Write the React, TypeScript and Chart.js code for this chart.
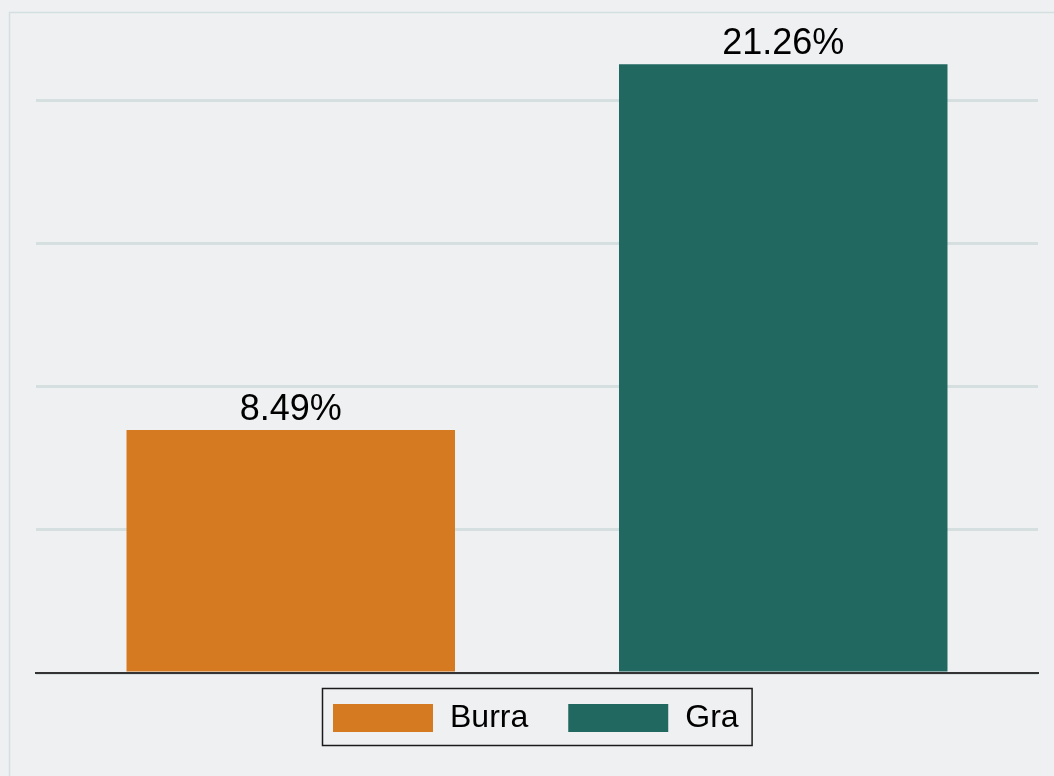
import React, { useEffect, useRef } from "react";
import { Chart, registerables } from "chart.js";

Chart.register(...registerables);

const categories = [""];
const seriesNames = ["Burra", "Gra"];
const seriesValues = [[8.49], [21.26]];
const seriesColors = ["#d67a22", "#216860"];
const gridTicks = [0, 5, 10, 15, 20];

const FONT = '"Liberation Sans", Arial, Helvetica, sans-serif';

const backgroundPlugin = {
  id: "bgFrame",
  beforeDraw(chart: any) {
    const ctx = chart.ctx;
    ctx.save();
    ctx.fillStyle = "#eff0f2";
    ctx.fillRect(0, 0, chart.width, chart.height);
    ctx.strokeStyle = "#d3dfe0";
    ctx.lineWidth = 1.5;
    ctx.strokeRect(9.5, 12.5, chart.width + 50, chart.height + 50);
    ctx.restore();
  },
};

const labelsPlugin = {
  id: "valueLabels",
  afterDatasetsDraw(chart: any) {
    const ctx = chart.ctx;
    ctx.save();
    ctx.font = `36px ${FONT}`;
    ctx.fillStyle = "#000";
    ctx.textAlign = "center";
    ctx.textBaseline = "alphabetic";
    chart.data.datasets.forEach((ds: any, i: number) => {
      const meta = chart.getDatasetMeta(i);
      meta.data.forEach((el: any, j: number) => {
        const v = ds.data[j];
        ctx.fillText(v.toFixed(2) + "%", el.x, el.y - 10);
      });
    });
    ctx.restore();
  },
};

const legendPlugin = {
  id: "boxLegend",
  afterDraw(chart: any) {
    const ctx = chart.ctx;
    const area = chart.chartArea;
    ctx.save();
    ctx.font = `32px ${FONT}`;
    const padL = 11;
    const padR = 13;
    const boxW = 100;
    const boxH = 28;
    const textGap = 17;
    const itemGap = 40;
    const items = chart.data.datasets.map((ds: any) => ({
      label: ds.label,
      color: ds.backgroundColor,
      tw: ctx.measureText(ds.label).width,
    }));
    let total = padL + padR;
    items.forEach((it: any, i: number) => {
      total += boxW + textGap + it.tw + (i > 0 ? itemGap : 0);
    });
    const cx = (area.left + area.right) / 2;
    const left = Math.round(cx - total / 2);
    const top = 688;
    const h = 57;
    ctx.strokeStyle = "#1a1a1a";
    ctx.lineWidth = 1.5;
    ctx.strokeRect(left + 0.5, top + 0.5, total, h);
    let x = left + padL;
    items.forEach((it: any, i: number) => {
      if (i > 0) x += itemGap;
      ctx.fillStyle = it.color;
      ctx.fillRect(x, top + 16, boxW, boxH);
      x += boxW + textGap;
      ctx.fillStyle = "#000";
      ctx.textAlign = "left";
      ctx.textBaseline = "middle";
      ctx.fillText(it.label, x, top + 30);
      x += it.tw;
    });
    ctx.restore();
  },
};

export default function App() {
  const ref = useRef<HTMLCanvasElement>(null);
  useEffect(() => {
    if (!ref.current) return;
    const chart = new Chart(ref.current, {
      type: "bar",
      data: {
        labels: categories,
        datasets: seriesNames.map((name, i) => ({
          label: name,
          data: seriesValues[i],
          backgroundColor: seriesColors[i],
          borderWidth: 0,
          categoryPercentage: 0.983,
          barPercentage: 0.667,
        })),
      },
      options: {
        animation: false,
        responsive: false,
        maintainAspectRatio: false,
        layout: { padding: { left: 36, right: 16, top: 43, bottom: 95 } },
        plugins: {
          legend: { display: false },
          tooltip: { enabled: false },
        },
        scales: {
          x: {
            display: true,
            grid: { display: false },
            ticks: { display: false },
            border: { display: true, color: "#333333", width: 2 },
          },
          y: {
            display: true,
            min: 0,
            max: 22,
            afterBuildTicks: (axis: any) => {
              axis.ticks = gridTicks.map((v) => ({ value: v }));
            },
            afterFit: (axis: any) => {
              axis.width = 0;
            },
            grid: { color: "#d5dfe0", lineWidth: 3, drawTicks: false },
            ticks: { display: false },
            border: { display: false },
          },
        },
      },
      plugins: [backgroundPlugin, labelsPlugin, legendPlugin],
    });
    return () => chart.destroy();
  }, []);
  return (
    <div
      style={{
        position: "fixed",
        left: 0,
        top: 0,
        width: 1054,
        height: 776,
        overflow: "hidden",
        background: "#eff0f2",
      }}
    >
      <canvas ref={ref} width={1054} height={776} style={{ display: "block" }} />
    </div>
  );
}
